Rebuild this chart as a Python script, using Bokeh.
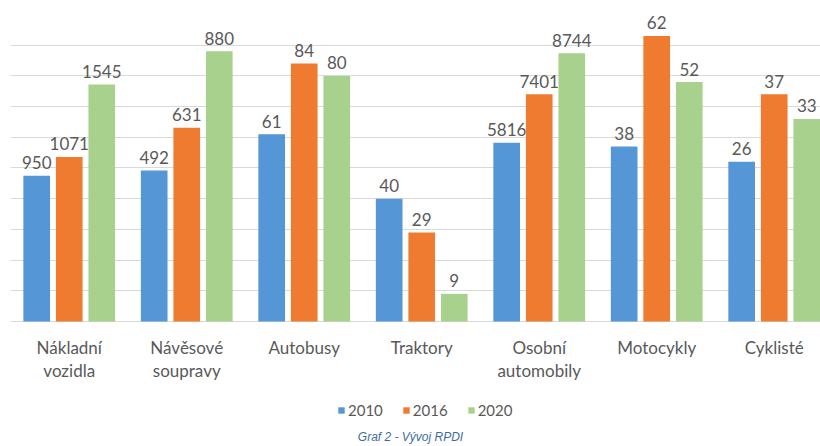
from bokeh.plotting import figure
from bokeh.models import Range1d, FixedTicker, ColumnDataSource, Legend, LegendItem, Label
from bokeh.embed import file_html
from bokeh.resources import INLINE
from bokeh.core.properties import value

categories = ["Nákladní\nvozidla", "Návěsové\nsoupravy", "Autobusy", "Traktory",
              "Osobní\nautomobily", "Motocykly", "Cyklisté"]
years = ["2010", "2016", "2020"]
# displayed values (data labels)
labels_2010 = ["950", "492", "61", "40", "5816", "38", "26"]
labels_2016 = ["1071", "631", "84", "29", "7401", "62", "37"]
labels_2020 = ["1545", "880", "80", "9", "8744", "52", "33"]
# bar heights as drawn in the picture (grid units, 0-10)
height_2010 = [4.75, 4.92, 6.1, 4.0, 5.82, 5.7, 5.2]
height_2016 = [5.36, 6.31, 8.4, 2.9, 7.4, 9.3, 7.4]
height_2020 = [7.72, 8.8, 8.0, 0.9, 8.74, 7.8, 6.6]
colors = ["#5597d6", "#ee7b2f", "#a9d18e"]

FONT = "Lato"
GRAY = "#595959"

p = figure(width=820, height=446, output_backend="svg", toolbar_location=None,
           x_range=Range1d(0, 6.894), y_range=Range1d(-4.072, 10),
           min_border_left=10, min_border_right=0, min_border_top=14, min_border_bottom=0)
p.outline_line_color = None
p.xgrid.visible = False
p.xaxis.visible = False
p.yaxis.visible = False
p.ygrid.ticker = FixedTicker(ticks=list(range(0, 11)))
p.ygrid.grid_line_color = "#d9d9d9"
p.ygrid.grid_line_width = 1

centers = [i + 0.5 for i in range(len(categories))]
offsets = [-0.277, 0.0, 0.277]
heights = [height_2010, height_2016, height_2020]
labels = [labels_2010, labels_2016, labels_2020]

items = []
for k, yr in enumerate(years):
    xs = [c + offsets[k] for c in centers]
    src = ColumnDataSource(dict(x=xs, top=heights[k], lab=labels[k]))
    r = p.vbar(x="x", top="top", width=0.227, bottom=0, source=src,
               fill_color=colors[k], line_color=None)
    p.text(x="x", y="top", text="lab", source=src, text_align="center",
           text_baseline="alphabetic", y_offset=-13, text_font=value(FONT),
           text_font_size="17px", text_color=GRAY)
    items.append(LegendItem(label=yr, renderers=[r]))

# category labels below the baseline
cat_src = ColumnDataSource(dict(x=centers, y=[0] * len(centers), t=categories))
p.text(x="x", y="y", text="t", source=cat_src, text_align="center", text_baseline="top",
       y_offset=16, text_font=value(FONT), text_font_size="17px", text_color=GRAY,
       text_line_height=1.05)

legend = Legend(items=items, orientation="horizontal", location=(327, 27),
                glyph_width=8, glyph_height=8, label_standoff=3, spacing=19,
                padding=0, margin=0, border_line_color=None, background_fill_alpha=0,
                label_text_font=FONT, label_text_font_size="15px", label_text_color=GRAY)
p.add_layout(legend, "center")

cap = Label(x=400, y=9.3, x_units="screen", y_units="screen", text="Graf 2 - Vývoj RPDI",
            text_align="center", text_baseline="middle", text_font="Liberation Sans",
            text_font_style="italic", text_font_size="12px", text_color="#3d6a9e")
p.add_layout(cap, "center")

open("out.html", "w").write(file_html(p, INLINE))
